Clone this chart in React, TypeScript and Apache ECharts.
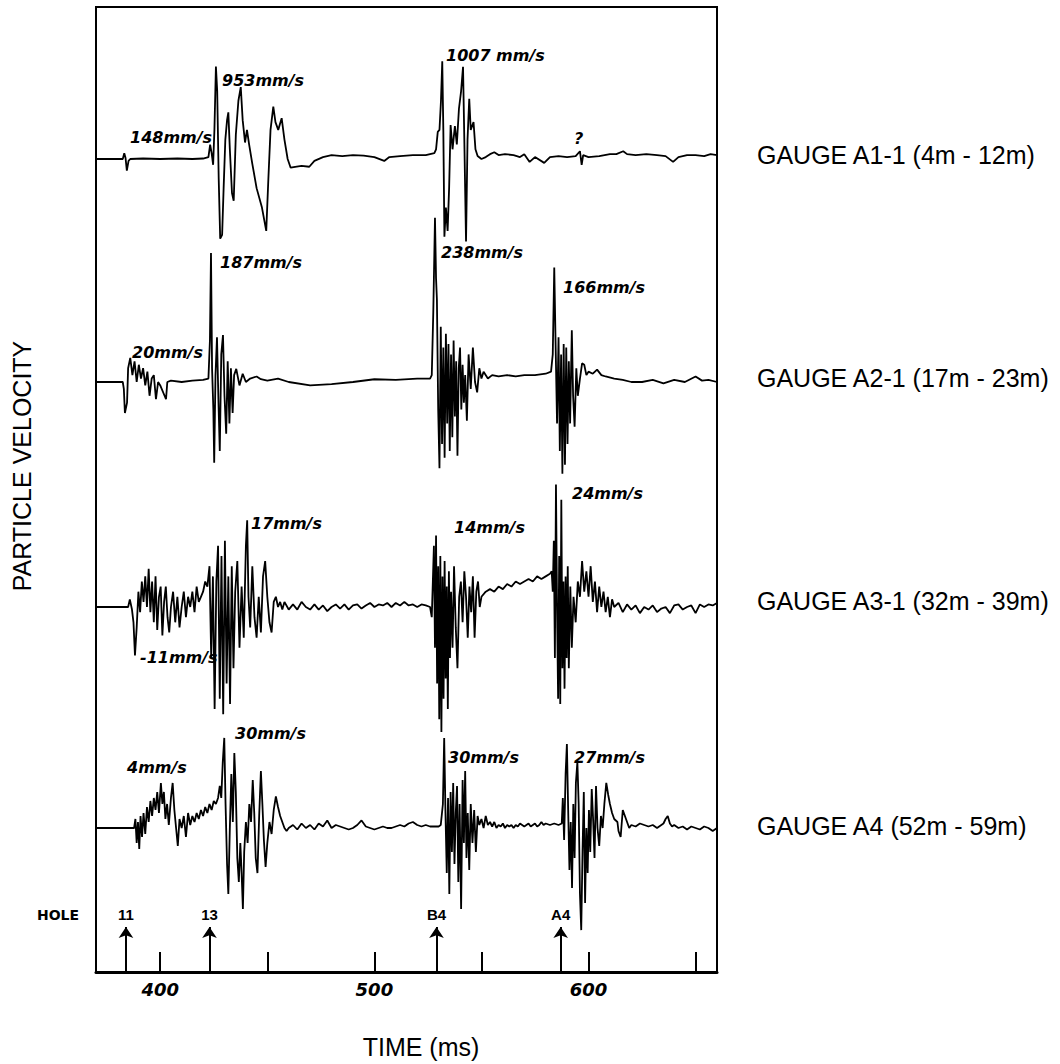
import React, { useEffect, useRef } from "react";
import * as echarts from "echarts";

// ---------- data ----------
const timeMin = 370;
const timeMax = 660;
const tickTimes = [400, 450, 500, 550, 600, 650];
const labelTimes = [400, 500, 600];

const holeNames = ["11", "13", "B4", "A4"];
const holeTimes = [384, 423, 529, 587];

const gaugeNames = [
  "GAUGE A1-1 (4m - 12m)",
  "GAUGE A2-1 (17m - 23m)",
  "GAUGE A3-1 (32m - 39m)",
  "GAUGE A4 (52m - 59m)",
];

// [time ms, particle velocity mm/s]
const gaugeA1: number[][] = [
  [370, 0], [378, 0], [382.5, 0], [383.2, 60], [383.8, 10], [384.4, -120], [385.2, -20], [386, 0],
  [392, 5], [400, 0], [408, 5], [415, 0], [420, 5], [422.5, 20], [423.3, 148], [424, 60],
  [424.7, -60], [425.3, 300], [426, 953], [426.6, 700], [427.3, -200], [428, -820], [428.9, -780],
  [429.6, -300], [430.4, 200], [431.2, 400], [431.8, 480], [432.5, 100], [433.5, -350], [434.3, -430],
  [435.3, 250], [436.5, 600], [437.6, 740], [438.5, 400], [439.6, 170], [440.5, 300], [441.5, 150],
  [443, -50], [445, -300], [447.5, -500], [449.5, -740], [450.5, -200], [451.5, 300], [452.8, 540],
  [453.8, 380], [455.1, 300], [456.7, 420], [458, 200], [459.5, 0], [460.9, -90], [463, -80],
  [466, -70], [469.6, -80], [472, -20], [476, 20], [480, 40], [485, 30], [490, 40], [495, 35],
  [500, 20], [504.6, -20], [507, 20], [512, 30], [518, 40], [524, 40], [528, 60], [528.8, 100],
  [529.6, 280], [530.4, 300], [531.1, 600], [531.7, 1007], [532.2, 300], [532.7, -800], [533.4, -500],
  [534.2, -740], [534.9, -300], [535.6, 350], [536.5, 100], [537.6, 340], [538.5, 150], [539.5, 520],
  [540.5, 700], [541.4, 950], [542, 200], [542.8, -850], [543.5, 200], [544.3, 620], [545, 300],
  [546.3, 380], [547.2, 100], [548.2, 30], [550, 0], [552, 20], [554, 50], [556, 70], [558, 40],
  [561, 50], [565, 40], [568, 20], [570, 50], [572.5, -30], [575, 20], [579.3, -40], [582, 20],
  [586, 30], [590, 20], [594, 30], [596, 80], [596.8, -60], [597.5, 40], [600, 20], [605, 30],
  [610, 50], [613, 50], [616.2, 80], [618, 50], [622, 40], [627, 50], [632, 40], [636, 30],
  [639.5, -30], [642, 20], [646, 40], [650, 40], [654, 30], [657, 50], [660, 40],
];

const gaugeA2: number[][] = [
  [370, 0], [382.5, 0], [383, -10], [383.5, -45], [384.5, -30], [385, 20], [386, 35], [387, 10],
  [388, 30], [389, 0], [390, 25], [391, 5], [392, 20], [393, -5], [394, 15], [395, -20], [396, 5],
  [397, 10], [398, -25], [399, 0], [400, -5], [402.7, -25], [403.3, 0], [405, 2], [410, 0],
  [415, 2], [420, 3], [422.5, 5], [423.2, 60], [423.7, 187], [424.2, 20], [424.8, -40],
  [425.2, -117], [425.8, 10], [426.5, 65], [427.2, -30], [427.8, -100], [428.5, 40], [429.3, 68],
  [430, -20], [430.8, -75], [431.5, 30], [432.3, -60], [433, 20], [433.8, -45], [434.5, 10],
  [435.5, 19], [437, -5], [438.5, 12], [440, 0], [442, 5], [445, 8], [447, 4], [450, 2], [455, 5],
  [460, 0], [470, -5], [480, -3], [490, 0], [500, 4], [510, 3], [520, 5], [526, 5], [526.8, 10],
  [527.5, 100], [528.3, 238], [528.8, 150], [529.2, 120], [529.8, -40], [530.4, -125], [531, 80],
  [531.6, -90], [532.2, 50], [532.8, -110], [533.4, 70], [534, -60], [534.6, 55], [535.2, -100],
  [535.8, 40], [536.4, -80], [537, 60], [537.6, -50], [538.2, 30], [538.8, -107], [539.4, 20],
  [540, 50], [540.6, -40], [541.2, 25], [541.8, -30], [542.4, 10], [543.2, -56], [544, 40],
  [545, -10], [546, 50], [547, 0], [548, -15], [549, 20], [550, 5], [551, 15], [553, 5], [555, 10],
  [558, 8], [562, 10], [566, 8], [570, 10], [575, 10], [580, 12], [582.5, 15], [583.3, 40],
  [584, 166], [584.6, 60], [585.3, -60], [586, 65], [586.6, -100], [587.2, 40], [587.8, -133],
  [588.4, 55], [589, -120], [589.6, 50], [590.2, -90], [590.8, 30], [591.4, -60], [592.2, 75],
  [592.8, -20], [593.5, -65], [594.3, 20], [595, -20], [596, 5], [597, 27], [598, 25], [599, 10],
  [600, 15], [602, 12], [604, 18], [606, 10], [608, 8], [612, 5], [616, 3], [620, 0], [625, 0],
  [630, 3], [635, -2], [640, 3], [645, 0], [650, 8], [653, 2], [656, 3], [660, 0],
];

const gaugeA3: number[][] = [
  [370, 0], [385, 0], [385.8, 1.5], [386.8, -0.5], [387.5, -3], [388.2, -9.5], [389, -4], [389.8, 3],
  [390.6, -1], [391.4, 5], [392.2, 1], [393, 6], [393.8, 0], [394.6, 7.5], [395.4, -1], [396.2, 5],
  [397, -3], [397.8, 6], [398.6, -4.5], [399.4, 2], [400.2, 4], [401, -5.6], [401.8, 1], [402.6, 4],
  [403.4, -2], [404.2, -5], [405, 0], [406, 3], [407, -3], [408, 2], [409, -4], [410, 0], [411, 3],
  [412, -2], [413, 2], [414, 0], [415, 3], [416, -1], [417, 4], [418, 1], [419, 2], [420, 3],
  [421, 5], [422, 4], [423, 8], [423.8, -10], [424.6, 6], [425.4, -20], [426.2, 5], [427, 12],
  [427.8, -18], [428.6, 10], [429.4, -21], [430.2, 13], [431, -15], [431.8, 6], [432.6, -19],
  [433.4, 8], [434.2, -12], [435, 3], [436, 9], [437, -8], [438, 4], [439, -6], [440, 12],
  [440.6, 17], [441.2, 2], [442, -4], [443, 8], [444, -2], [445, -6], [446, 2], [447, -5], [448, 6],
  [449, 9], [450, 2], [451, -3], [452, -5], [453, 1], [454, 2], [455, 0], [456, 1], [457, -0.5],
  [458, 1], [460, -0.5], [462, 0.5], [464, -0.5], [466, 1], [468, 0], [470, -0.5], [472, 0.5],
  [474, -0.5], [476, 0.3], [478, -0.8], [480, 0], [482, 0.5], [484, -0.3], [486, 0.5], [488, -0.5],
  [490, 0.3], [492, 0.5], [494, -0.3], [496, 0.3], [498, 0.8], [500, 0], [502, 0.5], [504, 0.3],
  [506, 0.8], [508, 0], [510, 0.8], [512, 0.3], [514, 1], [516, 0.3], [518, 0.5], [520, 0],
  [522, 0.5], [524, 0.3], [526, 0], [526.8, -2], [527.3, 5], [527.8, 12], [528.3, -8], [528.8, 14],
  [529.3, -15], [529.8, 8], [530.3, -22], [530.8, 10], [531.3, -24.5], [531.8, 6], [532.3, -18],
  [532.8, 9], [533.3, -14], [533.8, 4], [534.3, -20], [534.8, 7], [535.3, -10], [535.8, 3],
  [536.5, -8], [537.2, 8], [538, -4], [538.8, -12], [539.6, 2], [540.4, 5], [541.2, -3], [542, 7],
  [542.8, 2], [543.6, -6], [544.4, 4], [545.2, -1], [546, 6], [546.8, -6], [547.6, 3], [548.4, 5],
  [549.2, 0], [550, 2], [552, 3], [554, 3.5], [556, 3], [558, 4], [560, 3.5], [562, 4.5], [564, 4],
  [566, 5], [568, 4.5], [570, 5], [572, 5.5], [574, 5], [576, 6], [578, 5.5], [580, 6], [582, 6.5],
  [582.8, 7], [583.3, 3], [583.8, 13], [584.3, -10], [584.8, 24], [585.3, 0], [585.8, -18],
  [586.3, 10], [586.8, -19], [587.3, 21], [587.8, -12], [588.3, 5], [588.8, -16], [589.3, 6],
  [589.8, -10], [590.3, 8], [590.8, -12], [591.5, 4], [592.2, -8], [593, 2], [594, -3], [595, 5],
  [596, 2], [597, 9], [598, 3], [599, 7], [600, 2], [601, 8], [602, 1], [603, 5], [604, -1], [605, 4],
  [606, 0], [607, 3], [608, -1], [609, 2], [610, -2], [611, 1.5], [612, 0], [614, 0.8], [616, -1],
  [618, 0.5], [620, -0.5], [622, 0.3], [624, -1.2], [626, 0], [628, -0.5], [630, 0.3], [632, -1],
  [634, -0.3], [636, 0], [638, -1.2], [640, 0.3], [642, 0.5], [644, -0.5], [646, 0], [648, 0.3],
  [650, -1.2], [652, 0.5], [654, 0], [656, 0.5], [658, 0.3], [660, 0.8],
];

const gaugeA4: number[][] = [
  [370, 0], [387.8, 0], [388.4, 3], [389, -5], [389.6, 2], [390.2, -7], [390.8, 4], [391.5, -3],
  [392.2, 5], [393, -2], [393.8, 7], [394.6, 2], [395.4, 9], [396.2, 4], [397, 10], [397.8, 6],
  [398.6, 12], [399.4, 5], [400.3, 15], [401, 8], [401.7, 12], [402.4, 3], [403.2, 8], [404, 1],
  [405, 10], [405.8, 15], [406.6, 6], [407.4, 0], [408.2, -6], [409, 3], [410, 0], [411, 4],
  [412, -3], [413, 5], [414, 1], [415, 4], [416, 2], [417, 5], [418, 3], [419, 6], [420, 4],
  [421, 7], [422, 5], [423, 8], [424, 6], [425, 9], [426, 8], [427, 10], [427.8, 14], [428.5, 10],
  [429.2, 22], [429.9, 30], [430.5, 8], [431.2, -12], [431.8, -22], [432.5, 0], [433.2, 18],
  [433.9, 2], [434.6, 25], [435.3, 12], [436, -10], [436.7, -18], [437.4, -5], [438, -15],
  [438.6, -27], [439.2, -8], [440, 2], [440.8, -5], [441.6, 8], [442.4, 2], [443.2, 16], [443.9, 5],
  [444.6, -10], [445.4, -15], [446.2, 4], [447, 19], [447.7, 8], [448.4, -4], [449.2, -13],
  [450, -5], [451, 2], [452, -2], [453, 6], [454, 10.5], [455, 7], [456, 4], [457, 2], [458, 0],
  [459, -1], [460, 0], [462, 1], [464, -0.5], [466, 1.5], [468, 0], [470, 1], [472, -0.5],
  [474, 1.5], [476, 0.5], [478, 2.5], [480, 0], [482, 1], [484, 0.5], [486, 0], [488, -0.5],
  [490, 0], [492, 1], [494, 2.5], [496, 0.5], [498, 0], [500, -0.5], [502, 0], [504, 0.5], [506, 0],
  [508, 0], [510, 0.5], [512, 1], [514, 0.5], [516, 1.5], [518, 2], [520, 1], [522, 0.5], [524, 1],
  [526, 0.5], [530, 0.5], [531, 1], [532, 8], [532.6, 30], [533.2, 5], [533.8, -15], [534.4, 10],
  [535, -22], [535.6, 12], [536.2, -8], [536.8, 15], [537.4, -12], [538, 5], [538.6, 14],
  [539.2, -18], [539.8, 8], [540.5, -27], [541.2, 16], [541.8, -5], [542.4, 19], [543, -10],
  [543.6, 5], [544.3, -14], [545, 8], [545.8, -5], [546.6, 6], [547.4, -8], [548.2, 4], [549, 1],
  [550, 3], [551, 0], [552, 4], [553, 1], [554, 2], [555, 0.5], [556, 2], [557, 0], [558, 1],
  [559, 0.5], [560, 1.5], [561, 0], [562, 1], [563, 0.5], [564, 1], [565, 0], [566, 1], [567, 0.5],
  [568, 1.5], [569, 1], [570, 0.5], [571, 1], [572, 1.5], [573, 0.5], [574, 1], [575, 1.5],
  [576, 0.5], [577, 1], [578, 2], [579, 1], [580, 1.5], [582, 1], [584, 1.5], [586, 1], [587.5, 1.5],
  [588, 10], [588.6, -4], [589.3, 18], [589.9, 28], [590.5, 6], [591.1, -14], [591.7, 2],
  [592.3, -20], [592.9, 8], [593.5, -10], [594.1, 15], [594.8, 22], [595.4, 8], [596, -22],
  [596.6, -34], [597.2, -8], [597.8, 12], [598.4, -25], [599, 0], [599.6, -15], [600.2, 6],
  [600.8, -8], [601.5, 13], [602.2, 2], [602.8, -10], [603.5, 14], [604.2, 0], [605, -6],
  [605.8, 4], [606.6, 0], [607.4, 8], [608.3, 15], [609.2, 11], [610, 8], [611, 5], [612, 3],
  [613.5, 2], [614, -1], [615, -3], [616, 6], [617, 4], [618, 2], [619, 0], [620, 1], [622, 0.5],
  [624, 1.5], [626, 1], [628, 0.5], [630, 1], [632, 0], [634, 1], [635, 1.5], [636, 3], [637, 4],
  [638, 1.5], [639, 0.5], [640, 1], [642, 0], [644, 0.5], [646, -0.5], [648, 0.5], [650, 0],
  [652, -0.5], [654, 0.5], [656, 0], [658, -1], [660, 0],
];

const gaugeTraces = [gaugeA1, gaugeA2, gaugeA3, gaugeA4];

const peakLabels = [
  "148mm/s", "953mm/s", "1007 mm/s", "?", "238mm/s",
  "187mm/s", "20mm/s", "166mm/s",
  "17mm/s", "14mm/s", "24mm/s", "-11mm/s",
  "4mm/s", "30mm/s", "30mm/s", "27mm/s",
];

// ---------- layout / style ----------
const W = 1060;
const H = 1064;
const PLOT_LEFT = 96;
const PLOT_RIGHT = 717;
const PLOT_TOP = 7;
const PLOT_BOTTOM = 972;
const baselinePx = [159, 382, 607, 828];
const unitsPerPx = [10.3, 1.45, 0.196, 0.333];
const gaugeLabelY = [155, 378, 601, 826];
const peakLabelPos: number[][] = [
  [130, 137], [222, 80], [446, 55], [574, 138], [441, 252],
  [220, 262], [132, 352], [563, 287],
  [251, 523], [454, 527], [572, 493], [140, 657],
  [127, 767], [235, 733], [448, 757], [574, 757],
];
const SANS = "'Liberation Sans', Arial, Helvetica, sans-serif";
const ANNO = "'DejaVu Sans', Verdana, sans-serif";

function buildOption() {
  const gridRect = {
    left: PLOT_LEFT,
    top: PLOT_TOP,
    width: PLOT_RIGHT - PLOT_LEFT,
    height: PLOT_BOTTOM - PLOT_TOP,
  };
  const grids: any[] = [];
  const xAxes: any[] = [];
  const yAxes: any[] = [];
  for (let i = 0; i < 5; i++) {
    grids.push({
      ...gridRect,
      show: i === 0,
      borderColor: "#000",
      borderWidth: 2,
      backgroundColor: "transparent",
      containLabel: false,
    });
    if (i === 0) {
      xAxes.push({
        type: "value",
        gridIndex: 0,
        min: timeMin,
        max: timeMax,
        axisLine: { show: true, onZero: false, lineStyle: { color: "#000", width: 3 } },
        axisTick: {
          show: true,
          inside: true,
          length: 20,
          customValues: tickTimes,
          lineStyle: { color: "#000", width: 2 },
        },
        axisLabel: {
          show: true,
          customValues: labelTimes,
          color: "#000",
          fontFamily: ANNO,
          fontStyle: "italic",
          fontWeight: "bold",
          fontSize: 18,
          margin: 8,
        },
        splitLine: { show: false },
      });
      yAxes.push({ type: "value", gridIndex: 0, min: 0, max: 100, show: false });
    } else {
      const g = i - 1;
      xAxes.push({ type: "value", gridIndex: i, min: timeMin, max: timeMax, show: false });
      yAxes.push({
        type: "value",
        gridIndex: i,
        show: false,
        max: (baselinePx[g] - PLOT_TOP) * unitsPerPx[g],
        min: -(PLOT_BOTTOM - baselinePx[g]) * unitsPerPx[g],
      });
    }
  }

  const series: any[] = gaugeTraces.map((trace, g) => ({
    type: "line",
    name: gaugeNames[g],
    xAxisIndex: g + 1,
    yAxisIndex: g + 1,
    data: trace,
    showSymbol: false,
    symbol: "none",
    smooth: false,
    silent: true,
    lineStyle: { color: "#000", width: 1.8 },
  }));

  const arrowTop = ((PLOT_BOTTOM - 927) / (PLOT_BOTTOM - PLOT_TOP)) * 100;
  series.push({
    type: "line",
    name: "holes",
    xAxisIndex: 0,
    yAxisIndex: 0,
    data: [],
    silent: true,
    markLine: {
      silent: true,
      symbol: ["none", "arrow"],
      symbolSize: 11,
      lineStyle: { color: "#000", width: 2, type: "solid" },
      label: {
        show: true,
        position: "end",
        formatter: "{b}",
        color: "#000",
        fontFamily: SANS,
        fontWeight: "bold",
        fontSize: 15,
        distance: 5,
      },
      emphasis: { disabled: true },
      data: holeTimes.map((t, i) => [
        { name: holeNames[i], coord: [t, 0] },
        { coord: [t, arrowTop] },
      ]),
    },
  });

  const graphics: any[] = [];
  gaugeNames.forEach((name, g) => {
    graphics.push({
      type: "text",
      x: 757,
      y: gaugeLabelY[g],
      style: {
        text: name,
        fill: "#000",
        font: `25px ${SANS}`,
        textAlign: "left",
        textVerticalAlign: "middle",
      },
    });
  });
  peakLabels.forEach((txt, i) => {
    graphics.push({
      type: "text",
      x: peakLabelPos[i][0],
      y: peakLabelPos[i][1],
      style: {
        text: txt,
        fill: "#000",
        font: `italic bold 16px ${ANNO}`,
        textAlign: "left",
        textVerticalAlign: "middle",
      },
    });
  });
  graphics.push({
    type: "text",
    x: 22,
    y: 466,
    rotation: Math.PI / 2,
    style: {
      text: "PARTICLE VELOCITY",
      fill: "#000",
      font: `25px ${SANS}`,
      textAlign: "center",
      textVerticalAlign: "middle",
    },
  });
  graphics.push({
    type: "text",
    x: 421,
    y: 1047,
    style: {
      text: "TIME (ms)",
      fill: "#000",
      font: `25px ${SANS}`,
      textAlign: "center",
      textVerticalAlign: "middle",
    },
  });
  graphics.push({
    type: "text",
    x: 58,
    y: 915,
    style: {
      text: "HOLE",
      fill: "#000",
      font: `bold 14px ${ANNO}`,
      textAlign: "center",
      textVerticalAlign: "middle",
    },
  });

  return {
    animation: false,
    backgroundColor: "#fff",
    grid: grids,
    xAxis: xAxes,
    yAxis: yAxes,
    series,
    graphic: { elements: graphics },
  };
}

export default function App() {
  const ref = useRef<HTMLDivElement>(null);
  useEffect(() => {
    if (!ref.current) return;
    const chart = echarts.init(ref.current, undefined, { renderer: "svg" });
    chart.setOption(buildOption() as any);
    return () => chart.dispose();
  }, []);
  return (
    <div
      ref={ref}
      style={{ position: "absolute", left: 0, top: 0, width: W, height: H, background: "#fff" }}
    />
  );
}
